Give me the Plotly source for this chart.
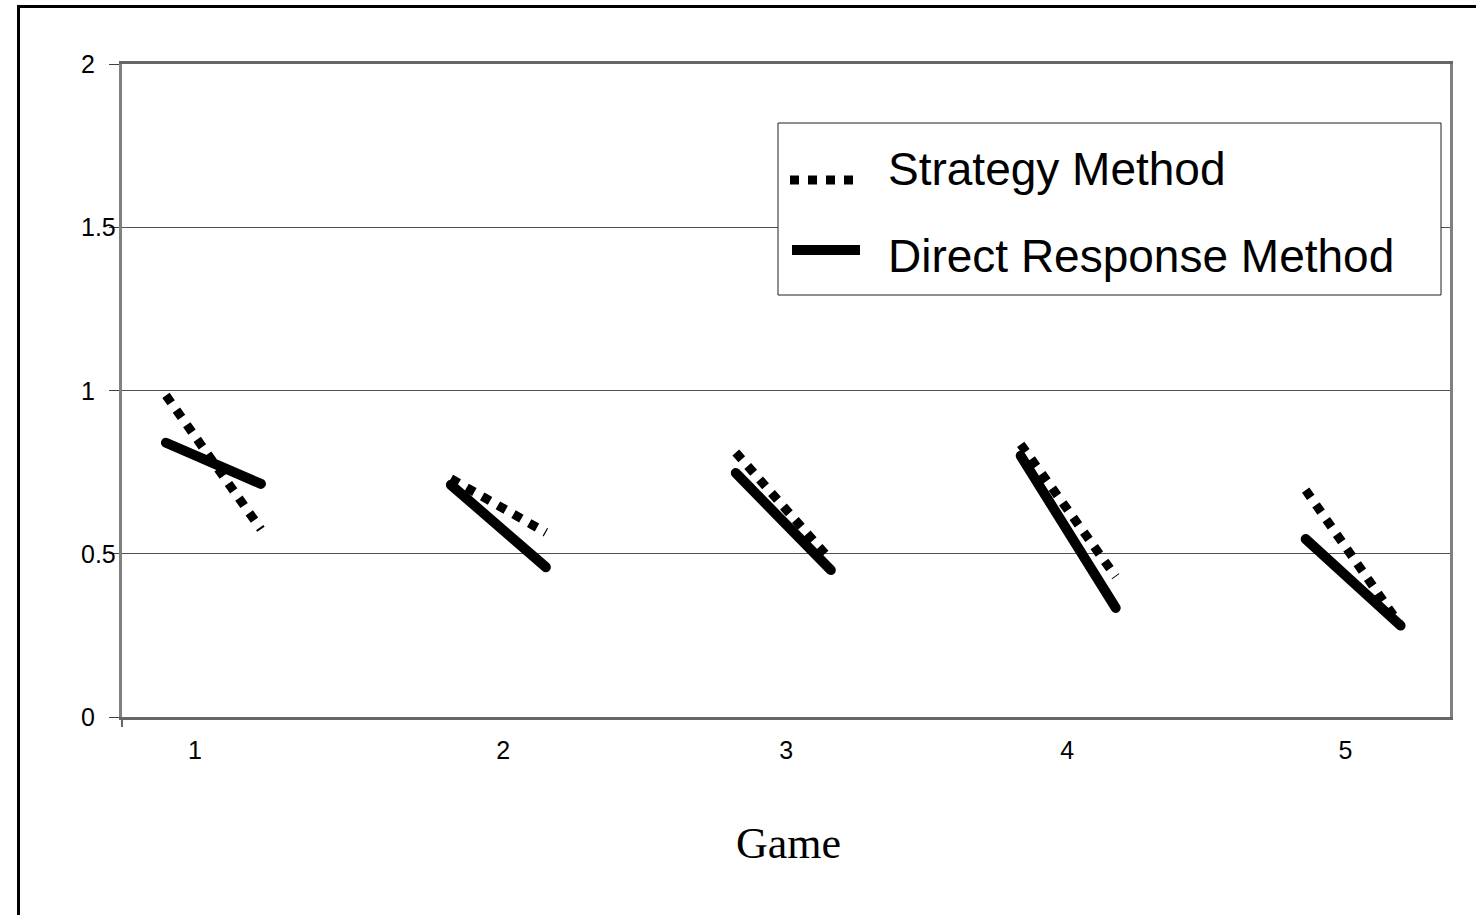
import plotly.graph_objects as go

# ---- data ----
games = ["1", "2", "3", "4", "5"]
strategy_start = [0.985, 0.73, 0.81, 0.835, 0.695]
strategy_end = [0.575, 0.565, 0.48, 0.43, 0.28]
direct_start = [0.84, 0.711, 0.747, 0.80, 0.545]
direct_end = [0.714, 0.459, 0.45, 0.334, 0.28]
series_names = ["Strategy Method", "Direct Response Method"]
y_ticks = [0, 0.5, 1, 1.5, 2]
y_tick_labels = ["0", "0.5", "1", "1.5", "2"]

# Excel-style category slots: each game uses two adjacent slots, then a gap slot
def build(starts, ends):
    xs, ys = [], []
    for i, (a, b) in enumerate(zip(starts, ends)):
        base = 3 * i
        xs += [base, base + 1, base + 2]
        ys += [a, b, None]
    return xs[:-1], ys[:-1]

xs_s, ys_s = build(strategy_start, strategy_end)
xs_d, ys_d = build(direct_start, direct_end)

# ---- layout geometry (pixels) ----
W, H = 1476, 915
L, R, T, B = 122, 1450, 64, 717

def px(x):
    return (x - L) / (R - L)

def py(y):
    return (B - y) / (B - T)

fig = go.Figure()
fig.add_trace(go.Scatter(x=xs_s, y=ys_s, mode="lines", name=series_names[0],
                         line=dict(color="black", width=9, dash="dot"),
                         connectgaps=False, showlegend=False))
fig.add_trace(go.Scatter(x=xs_d, y=ys_d, mode="lines", name=series_names[1],
                         line=dict(color="black", width=10),
                         connectgaps=False, showlegend=False))

game_tick_pos = [0.305, 3.55, 6.53, 9.49, 12.42]

fig.update_layout(
    width=W, height=H,
    margin=dict(l=L, r=W - R, t=T, b=H - B),
    paper_bgcolor="white", plot_bgcolor="white",
    font=dict(family="Liberation Sans, Arial", color="black", size=24),
    xaxis=dict(range=[-0.463, 13.52], tickvals=game_tick_pos, ticktext=games,
               showgrid=False, zeroline=False, ticks="",
               showline=True, linecolor="#666666", linewidth=3, mirror=True,
               tickfont=dict(size=25), ticklabelstandoff=9),
    yaxis=dict(range=[0, 2], tickvals=y_ticks, ticktext=["" for _ in y_ticks],
               showgrid=True, gridcolor="#505050", gridwidth=1, zeroline=False,
               ticks="outside", ticklen=10, tickwidth=1, tickcolor="#404040",
               showline=True, linecolor="#808080", linewidth=3, mirror=True),
    showlegend=False,
)

# left-aligned y tick labels, as in the reference
for v, lab in zip(y_ticks, y_tick_labels):
    fig.add_annotation(xref="paper", yref="y", x=px(79), y=v, text=lab,
                       showarrow=False, xanchor="left", yanchor="middle",
                       font=dict(family="Liberation Sans, Arial", size=25, color="black"))

shapes = []
# outer black frame
shapes.append(dict(type="rect", xref="paper", yref="paper",
                   x0=px(18.5), x1=px(1490), y0=py(930), y1=py(6.5),
                   line=dict(color="black", width=3), fillcolor="rgba(0,0,0,0)", layer="above"))
# small tick below the left corner
shapes.append(dict(type="line", xref="paper", yref="paper",
                   x0=px(122), x1=px(122), y0=py(717), y1=py(727),
                   line=dict(color="#666666", width=2), layer="above"))
# legend box
shapes.append(dict(type="rect", xref="paper", yref="paper",
                   x0=px(778), x1=px(1441), y0=py(295), y1=py(123),
                   line=dict(color="#202020", width=1), fillcolor="white", layer="above"))
# legend samples
shapes.append(dict(type="line", xref="paper", yref="paper",
                   x0=px(790), x1=px(862), y0=py(180), y1=py(180),
                   line=dict(color="black", width=9, dash="dot"), layer="above"))
shapes.append(dict(type="line", xref="paper", yref="paper",
                   x0=px(792), x1=px(860), y0=py(250), y1=py(250),
                   line=dict(color="black", width=10), layer="above"))
fig.update_layout(shapes=shapes)

fig.add_annotation(xref="paper", yref="paper", x=px(886), y=py(169),
                   text=series_names[0], showarrow=False, xanchor="left", yanchor="middle",
                   font=dict(family="Liberation Sans, Arial", size=46, color="black"))
fig.add_annotation(xref="paper", yref="paper", x=px(886), y=py(256),
                   text=series_names[1], showarrow=False, xanchor="left", yanchor="middle",
                   font=dict(family="Liberation Sans, Arial", size=46, color="black"))
# axis title
fig.add_annotation(xref="paper", yref="paper", x=px(788), y=py(843),
                   text="Game", showarrow=False, xanchor="center", yanchor="middle",
                   font=dict(family="Liberation Serif, Times New Roman", size=44, color="black"))

post = """
document.body.style.margin = '0';
document.body.style.padding = '0';
var traces = document.querySelectorAll('.scatterlayer .trace');
if (traces.length > 1) {
  traces[1].querySelectorAll('path.js-line').forEach(function(p){
    p.style.strokeLinecap = 'round';
    p.style.strokeLinejoin = 'round';
  });
}
"""
fig.write_html("out.html", post_script=post, config={"displayModeBar": False})
